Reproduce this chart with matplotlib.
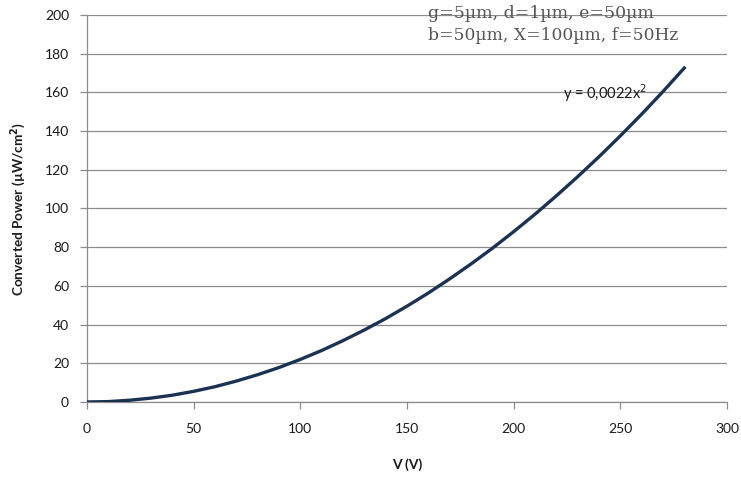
import matplotlib
matplotlib.use("Agg")
import matplotlib.pyplot as plt

# Values
voltage = [0, 10, 20, 30, 40, 50, 60, 70, 80, 90, 100, 110, 120, 130, 140,
           150, 160, 170, 180, 190, 200, 210, 220, 230, 240, 250, 260, 270, 280]
power = [0, 0.2, 0.9, 2.0, 3.5, 5.5, 7.9, 10.8, 14.1, 17.8, 22.0, 26.6, 31.7,
         37.2, 43.1, 49.5, 56.3, 63.6, 71.3, 79.4, 88.0, 97.0, 106.5, 116.4,
         126.7, 137.5, 148.7, 160.4, 172.6]
x_ticks = [0, 50, 100, 150, 200, 250, 300]
y_ticks = [0, 20, 40, 60, 80, 100, 120, 140, 160, 180, 200]

fig = plt.figure(figsize=(7.41, 4.79), dpi=100)
ax = fig.add_axes([0.1174, 0.1608, 0.8636, 0.8079])

ax.plot(voltage, power, color="#1b3352", lw=2.4, solid_capstyle="projecting", zorder=3)

ax.set_xlim(0, 300)
ax.set_ylim(0, 200)
ax.set_xticks(x_ticks)
ax.set_yticks(y_ticks)
ax.yaxis.grid(True, color="#8c8c8c", lw=0.9)
ax.set_axisbelow(True)
for s in ["top", "right"]:
    ax.spines[s].set_visible(False)
for s in ["left", "bottom"]:
    ax.spines[s].set_color("#8c8c8c")
    ax.spines[s].set_linewidth(0.9)
ax.tick_params(axis="both", colors="#8c8c8c", length=5, width=0.9, direction="out",
               labelcolor="#1a1a1a", labelsize=10)
ax.tick_params(axis="x", pad=10)
ax.tick_params(axis="y", pad=8)
for lab in ax.get_xticklabels() + ax.get_yticklabels():
    lab.set_family("Lato")

ax.set_xlabel("V (V)", family="Lato", fontweight="bold", fontsize=10, labelpad=17, color="#1a1a1a")
ax.set_ylabel("Converted Power (µW/cm$^{\\mathbf{2}}$)", family="Lato", fontweight="bold",
              fontsize=9.8, labelpad=12, color="#1a1a1a")

fig.text(0.577, 0.9624, "g=5µm, d=1µm, e=50µm", family="DejaVu Serif", fontsize=12.5,
         color="#555555", va="baseline")
fig.text(0.577, 0.9165, "b=50µm, X=100µm, f=50Hz", family="DejaVu Serif", fontsize=12.3,
         color="#555555", va="baseline")

ax.text(243, 159.7, "y = 0,0022x$^2$", family="Lato", fontsize=10.5, color="#1a1a1a",
        ha="center", va="center")

fig.savefig("out.png", dpi=100)
